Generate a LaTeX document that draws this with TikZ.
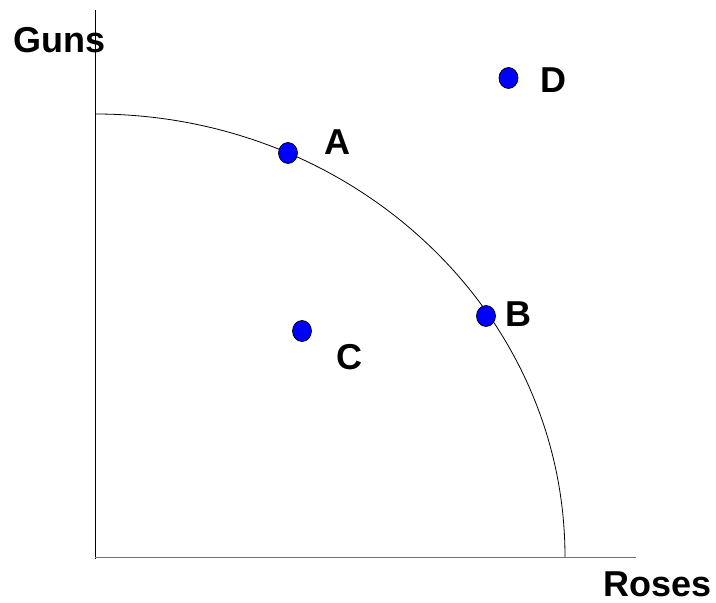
\documentclass[tikz,border=0pt]{standalone}
\usepackage{fontspec}
\setmainfont{Liberation Sans}
\usetikzlibrary{shapes.geometric}
\begin{document}
\begin{tikzpicture}[x=1pt,y=1pt,
  dot/.style={ellipse,draw=black,line width=0.7pt,fill=blue,minimum width=19pt,minimum height=21pt,inner sep=0pt},
  lbl/.style={anchor=base west,inner sep=0pt,font=\bfseries\fontsize{36}{43}\selectfont},
  axis/.style={line width=0.9pt}]
\useasboundingbox (0,0) rectangle (716,603);
\coordinate (ytop) at (95,593);
\coordinate (ybot) at (95,44);
\coordinate (xleft) at (95,46);
\coordinate (xright) at (636,46);
\coordinate (cstart) at (95,489);
\draw[axis,black] (ytop) -- (ybot);
\draw[axis,black!55] (xleft) -- (xright);
\draw[line width=0.8pt] (cstart) arc[start angle=90,end angle=0,x radius=470,y radius=443];
\node[dot] (A) at (288,450) {};
\node[dot] (B) at (486,287) {};
\node[dot] (C) at (302,272) {};
\node[dot] (D) at (508.5,525) {};
\node[lbl] (gl) at (13,550.5) {Guns};
\node[lbl] (rl) at (603,6.5) {Roses};
\node[lbl] (al) at (324,448) {A};
\node[lbl] (dl) at (540,510) {D};
\node[lbl] (bl) at (505.5,276) {B};
\node[lbl] (cl) at (336.5,233) {C};
\end{tikzpicture}
\end{document}
